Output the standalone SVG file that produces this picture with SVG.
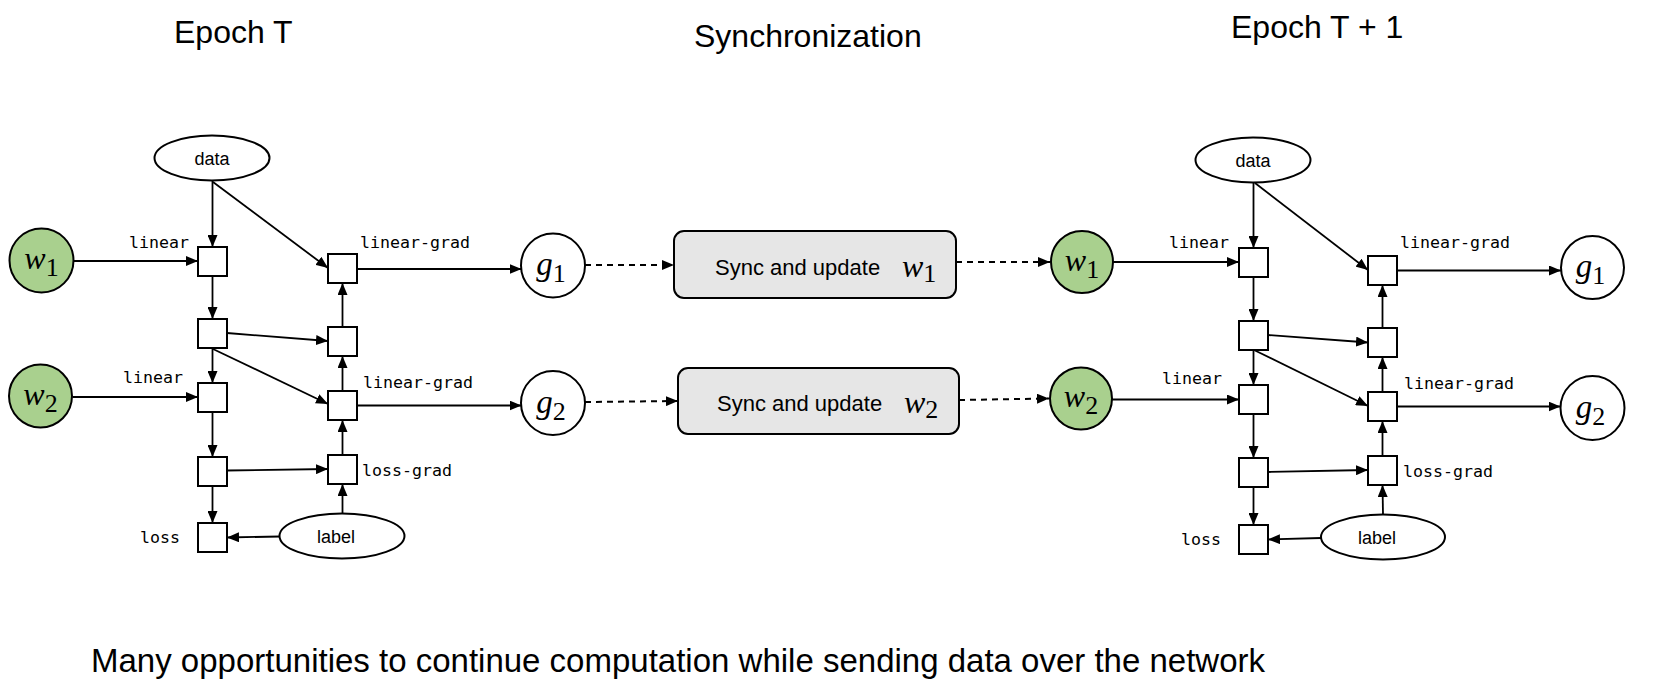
<svg xmlns="http://www.w3.org/2000/svg" width="1678" height="686" viewBox="0 0 1678 686">
<style>
.title{font-family:"Liberation Sans",Arial,sans-serif;font-size:32px;fill:#000}
.foot{font-family:"Liberation Sans",Arial,sans-serif;font-size:33px;fill:#000}
.op{fill:#fff;stroke:#000;stroke-width:2}
.ell{fill:#fff;stroke:#000;stroke-width:2}
.wc{fill:#a9d08e;stroke:#000;stroke-width:2}
.gc{fill:#fff;stroke:#000;stroke-width:2}
.sync{fill:#e6e6e6;stroke:#000;stroke-width:2}
.mono{font-family:"DejaVu Sans Mono","Liberation Mono",monospace;font-size:16.6px;fill:#000}
.sans{font-family:"Liberation Sans",Arial,sans-serif;font-size:18px;fill:#000;text-anchor:middle}
.synct{font-family:"Liberation Sans",Arial,sans-serif;font-size:22px;fill:#000}
.math{font-family:"Liberation Serif","Times New Roman",serif;font-style:italic;fill:#000}
.sub{font-style:normal}
.e{stroke:#000;stroke-width:1.8;fill:none;marker-end:url(#ah)}
.d{stroke:#000;stroke-width:2;fill:none;stroke-dasharray:6 5;marker-end:url(#ah)}
</style>
<defs>
<marker id="ah" viewBox="0 0 12 10" refX="12" refY="5" markerWidth="12" markerHeight="10" orient="auto" markerUnits="userSpaceOnUse">
<path d="M0,0 L12,5 L0,10 z" fill="#000"/>
</marker>
</defs>

<g id="titles">
<text class="title" x="174" y="43">Epoch T</text>
<text class="title" x="694" y="47">Synchronization</text>
<text class="title" x="1231" y="38">Epoch T + 1</text>
</g>

<g id="connectors">
<!-- left epoch -->
<line class="e" x1="212.5" y1="181" x2="212.5" y2="247"/>
<line class="e" x1="213" y1="182" x2="328" y2="268"/>
<line class="e" x1="73.5" y1="261" x2="198" y2="261"/>
<line class="e" x1="212.5" y1="276" x2="212.5" y2="319"/>
<line class="e" x1="227" y1="333" x2="328" y2="341"/>
<line class="e" x1="342.5" y1="327" x2="342.5" y2="283"/>
<line class="e" x1="212.5" y1="348" x2="212.5" y2="383"/>
<line class="e" x1="213" y1="349" x2="328" y2="404"/>
<line class="e" x1="72.5" y1="397" x2="198" y2="397"/>
<line class="e" x1="212.5" y1="412" x2="212.5" y2="457"/>
<line class="e" x1="227" y1="470.5" x2="328" y2="469"/>
<line class="e" x1="212.5" y1="486" x2="212.5" y2="523"/>
<line class="e" x1="342.5" y1="513.5" x2="342.5" y2="484"/>
<line class="e" x1="342.5" y1="455" x2="342.5" y2="420"/>
<line class="e" x1="342.5" y1="391" x2="342.5" y2="356"/>
<line class="e" x1="280" y1="536.5" x2="227" y2="537.5"/>
<line class="e" x1="357" y1="269" x2="521.5" y2="269"/>
<line class="e" x1="357" y1="405.5" x2="521.5" y2="405.5"/>
<!-- sync dashed -->
<line class="d" x1="585" y1="265" x2="674" y2="265"/>
<line class="d" x1="956" y1="262" x2="1050" y2="262"/>
<line class="d" x1="585" y1="402" x2="678" y2="401"/>
<line class="d" x1="959" y1="400" x2="1049" y2="398.5"/>
<!-- right epoch -->
<line class="e" x1="1253.5" y1="182.5" x2="1253.5" y2="248"/>
<line class="e" x1="1255" y1="183" x2="1368" y2="270"/>
<line class="e" x1="1113" y1="262" x2="1239" y2="262"/>
<line class="e" x1="1253.5" y1="277" x2="1253.5" y2="321"/>
<line class="e" x1="1268" y1="335" x2="1368" y2="342.5"/>
<line class="e" x1="1382.5" y1="328" x2="1382.5" y2="285"/>
<line class="e" x1="1253.5" y1="350" x2="1253.5" y2="385"/>
<line class="e" x1="1254" y1="350" x2="1368" y2="406"/>
<line class="e" x1="1112" y1="399.5" x2="1239" y2="399.5"/>
<line class="e" x1="1253.5" y1="414" x2="1253.5" y2="458"/>
<line class="e" x1="1268" y1="472" x2="1368" y2="470"/>
<line class="e" x1="1253.5" y1="487" x2="1253.5" y2="525"/>
<line class="e" x1="1383" y1="514.5" x2="1382.5" y2="485"/>
<line class="e" x1="1382.5" y1="456" x2="1382.5" y2="421"/>
<line class="e" x1="1382.5" y1="392" x2="1382.5" y2="357"/>
<line class="e" x1="1321" y1="538" x2="1268" y2="539.5"/>
<line class="e" x1="1397" y1="270.5" x2="1561" y2="270.5"/>
<line class="e" x1="1397" y1="406.5" x2="1560.5" y2="406.5"/>
</g>

<!-- Epoch T nodes -->
<g id="L-data"><ellipse class="ell" cx="212" cy="158" rx="57.5" ry="22.5"/><text class="sans" x="212" y="165">data</text></g>
<g id="L-w1"><circle class="wc" cx="41.5" cy="260.5" r="32"/><text class="math" x="41.5" y="269" font-size="32" text-anchor="middle">w<tspan class="sub" font-size="26" dy="7">1</tspan></text></g>
<g id="L-w2"><circle class="wc" cx="40.5" cy="396" r="31.5"/><text class="math" x="40.5" y="405" font-size="32" text-anchor="middle">w<tspan class="sub" font-size="26" dy="7">2</tspan></text></g>
<g id="L-linear1"><rect class="op" x="198" y="247" width="29" height="29"/><text class="mono" x="129" y="248">linear</text></g>
<g id="L-fwd2"><rect class="op" x="198" y="319" width="29" height="29"/></g>
<g id="L-linear2"><rect class="op" x="198" y="383" width="29" height="29"/><text class="mono" x="123" y="383">linear</text></g>
<g id="L-fwd4"><rect class="op" x="198" y="457" width="29" height="29"/></g>
<g id="L-loss"><rect class="op" x="198" y="523" width="29" height="29"/><text class="mono" x="140" y="543">loss</text></g>
<g id="L-lingrad1"><rect class="op" x="328" y="254" width="29" height="29"/><text class="mono" x="360" y="248">linear-grad</text></g>
<g id="L-bwd2"><rect class="op" x="328" y="327" width="29" height="29"/></g>
<g id="L-lingrad2"><rect class="op" x="328" y="391" width="29" height="29"/><text class="mono" x="363" y="388">linear-grad</text></g>
<g id="L-lossgrad"><rect class="op" x="328" y="455" width="29" height="29"/><text class="mono" x="362" y="476">loss-grad</text></g>
<g id="L-label"><ellipse class="ell" cx="342" cy="536" rx="62.5" ry="22.5"/><text class="sans" x="336" y="543">label</text></g>
<g id="L-g1"><circle class="gc" cx="553" cy="265.5" r="32"/><text class="math" x="551" y="275" font-size="33" text-anchor="middle">g<tspan class="sub" font-size="26" dy="7">1</tspan></text></g>
<g id="L-g2"><circle class="gc" cx="553" cy="403" r="32"/><text class="math" x="551" y="412.5" font-size="33" text-anchor="middle">g<tspan class="sub" font-size="26" dy="7">2</tspan></text></g>

<!-- Synchronization nodes -->
<g id="sync1"><rect class="sync" x="674" y="231" width="282" height="67" rx="10"/><text class="synct" x="715" y="275">Sync and update</text><text class="math" x="902" y="277" font-size="32">w<tspan class="sub" font-size="26" dy="5">1</tspan></text></g>
<g id="sync2"><rect class="sync" x="678" y="368" width="281" height="66" rx="10"/><text class="synct" x="717" y="411">Sync and update</text><text class="math" x="904" y="413" font-size="32">w<tspan class="sub" font-size="26" dy="5">2</tspan></text></g>

<!-- Epoch T+1 nodes -->
<g id="R-data"><ellipse class="ell" cx="1253" cy="160" rx="57.5" ry="22.5"/><text class="sans" x="1253" y="167">data</text></g>
<g id="R-w1"><circle class="wc" cx="1082" cy="262" r="31"/><text class="math" x="1082" y="270.5" font-size="32" text-anchor="middle">w<tspan class="sub" font-size="26" dy="7">1</tspan></text></g>
<g id="R-w2"><circle class="wc" cx="1081" cy="398.5" r="31"/><text class="math" x="1081" y="407" font-size="32" text-anchor="middle">w<tspan class="sub" font-size="26" dy="7">2</tspan></text></g>
<g id="R-linear1"><rect class="op" x="1239" y="248" width="29" height="29"/><text class="mono" x="1169" y="248">linear</text></g>
<g id="R-fwd2"><rect class="op" x="1239" y="321" width="29" height="29"/></g>
<g id="R-linear2"><rect class="op" x="1239" y="385" width="29" height="29"/><text class="mono" x="1162" y="384">linear</text></g>
<g id="R-fwd4"><rect class="op" x="1239" y="458" width="29" height="29"/></g>
<g id="R-loss"><rect class="op" x="1239" y="525" width="29" height="29"/><text class="mono" x="1181" y="545">loss</text></g>
<g id="R-lingrad1"><rect class="op" x="1368" y="256" width="29" height="29"/><text class="mono" x="1400" y="248">linear-grad</text></g>
<g id="R-bwd2"><rect class="op" x="1368" y="328" width="29" height="29"/></g>
<g id="R-lingrad2"><rect class="op" x="1368" y="392" width="29" height="29"/><text class="mono" x="1404" y="389">linear-grad</text></g>
<g id="R-lossgrad"><rect class="op" x="1368" y="456" width="29" height="29"/><text class="mono" x="1403" y="477">loss-grad</text></g>
<g id="R-label"><ellipse class="ell" cx="1383" cy="537" rx="62" ry="22.5"/><text class="sans" x="1377" y="544">label</text></g>
<g id="R-g1"><circle class="gc" cx="1592.5" cy="267.5" r="31.5"/><text class="math" x="1590.5" y="277" font-size="33" text-anchor="middle">g<tspan class="sub" font-size="26" dy="7">1</tspan></text></g>
<g id="R-g2"><circle class="gc" cx="1592.5" cy="408" r="32"/><text class="math" x="1590.5" y="417.5" font-size="33" text-anchor="middle">g<tspan class="sub" font-size="26" dy="7">2</tspan></text></g>

<g id="footer">
<text class="foot" x="91" y="672">Many opportunities to continue computation while sending data over the network</text>
</g>
</svg>
